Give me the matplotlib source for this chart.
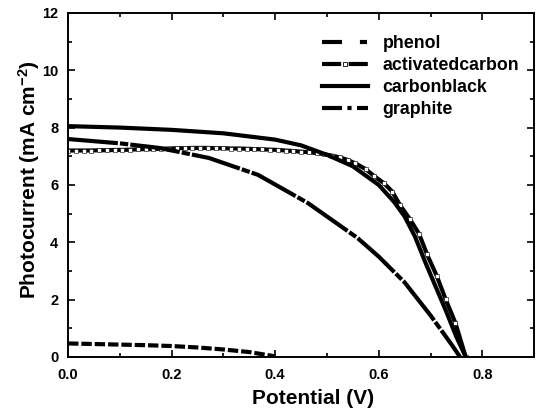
import numpy as np
import matplotlib
matplotlib.use("Agg")
import matplotlib.pyplot as plt
from matplotlib.lines import Line2D
from matplotlib.ticker import MultipleLocator

plt.rcParams["font.family"] = ["Liberation Sans", "DejaVu Sans"]
plt.rcParams["font.weight"] = "bold"
plt.rcParams["mathtext.fontset"] = "custom"
plt.rcParams["mathtext.bf"] = "Liberation Sans:bold"
plt.rcParams["mathtext.rm"] = "Liberation Sans:bold"
plt.rcParams["mathtext.default"] = "bf"

# ── data ──────────────────────────────────────────────────────────────────────
phenol_v = [0.0, 0.05, 0.1, 0.15, 0.2, 0.25, 0.3, 0.35, 0.38, 0.4]
phenol_i = [0.47, 0.45, 0.43, 0.41, 0.38, 0.33, 0.26, 0.17, 0.08, 0.02]

ac_v = [0.0, 0.015, 0.03, 0.045, 0.06, 0.075, 0.09, 0.105, 0.12, 0.135, 0.15,
        0.165, 0.18, 0.195, 0.21, 0.225, 0.24, 0.255, 0.27, 0.285, 0.3, 0.315,
        0.33, 0.345, 0.36, 0.375, 0.39, 0.405, 0.42, 0.435, 0.45, 0.465, 0.48,
        0.495, 0.51, 0.525, 0.54, 0.555, 0.575, 0.591, 0.61, 0.626, 0.641,
        0.66, 0.678, 0.693, 0.712, 0.729, 0.748, 0.768]
ac_i = [7.20, 7.20, 7.20, 7.20, 7.21, 7.21, 7.22, 7.22, 7.23, 7.24, 7.25,
        7.25, 7.26, 7.27, 7.28, 7.28, 7.29, 7.29, 7.29, 7.28, 7.28, 7.27,
        7.27, 7.26, 7.25, 7.24, 7.23, 7.22, 7.20, 7.18, 7.16, 7.14, 7.11,
        7.07, 7.02, 6.96, 6.87, 6.75, 6.55, 6.31, 6.06, 5.77, 5.30,
        4.81, 4.29, 3.59, 2.83, 2.02, 1.19, 0.0]

cb_v = [0.0, 0.1, 0.2, 0.3, 0.4, 0.45, 0.5, 0.55, 0.6, 0.63, 0.65, 0.67,
        0.69, 0.71, 0.73, 0.75, 0.768]
cb_i = [8.05, 8.00, 7.92, 7.80, 7.58, 7.38, 7.05, 6.65, 6.00, 5.40, 4.90, 4.20,
        3.30, 2.45, 1.60, 0.70, 0.0]

gr_v = [0.0, 0.1, 0.176, 0.272, 0.367, 0.463, 0.559, 0.6, 0.65, 0.7, 0.72,
        0.74, 0.757]
gr_i = [7.60, 7.45, 7.29, 6.94, 6.35, 5.37, 4.15, 3.50, 2.60, 1.45, 0.95,
        0.45, 0.0]

labels = ["phenol", "activatedcarbon", "carbonblack", "graphite"]

# ── plot ──────────────────────────────────────────────────────────────────────
fig = plt.figure(figsize=(5.4, 4.16), dpi=100)
ax = fig.add_axes([0.126, 0.142, 0.863, 0.827])

lw = 3.0
ax.plot(phenol_v, phenol_i, color="black", lw=lw, ls=(0, (2.5, 0.7)))
ax.plot(ac_v, ac_i, color="black", lw=lw, ls="-", marker="s",
        ms=2.4, mfc="white", mec="black", mew=0.4)
ax.plot(cb_v, cb_i, color="black", lw=lw, ls="-")
ax.plot(gr_v, gr_i, color="black", lw=lw, ls=(0, (12, 0.5, 2, 0.5)))

# legend handles drawn the way the original legend shows them
ac_handle = (
    Line2D([], [], color="black", lw=lw, ls=(0, (4.6, 1.8))),
    Line2D([], [], ls="none", marker="s", ms=3.2, mfc="white", mec="black",
           mew=0.6),
)
handles = [
    Line2D([], [], color="black", lw=lw, ls=(0, (4.8, 4.3, 1.7, 4.3))),
    ac_handle,
    Line2D([], [], color="black", lw=lw, ls="-"),
    Line2D([], [], color="black", lw=lw, ls=(0, (4.8, 1.3, 1.0, 1.3))),
]

ax.set_xlim(0, 0.9)
ax.set_ylim(0, 12)
ax.xaxis.set_major_locator(MultipleLocator(0.2))
ax.xaxis.set_minor_locator(MultipleLocator(0.1))
ax.yaxis.set_major_locator(MultipleLocator(2))
ax.yaxis.set_minor_locator(MultipleLocator(1))
ax.xaxis.set_major_formatter(plt.FuncFormatter(lambda v, p: f"{v:.1f}"))
ax.tick_params(which="both", direction="in", top=True, right=True,
               labelsize=10.5, width=1.2)
ax.tick_params(axis="y", pad=7)
ax.tick_params(axis="x", pad=8)
ax.tick_params(which="major", length=5)
ax.tick_params(which="minor", length=3)
for s in ax.spines.values():
    s.set_linewidth(1.4)

ax.set_xlabel("Potential (V)", fontsize=15, fontweight="bold")
ax.set_ylabel("Photocurrent (mA cm$^{-2}$)", fontsize=15, fontweight="bold")
ax.xaxis.set_label_coords(0.526, -0.094)
ax.yaxis.set_label_coords(-0.055, 0.515)

ax.legend(handles, labels, loc="upper left", bbox_to_anchor=(0.545, 0.935),
          frameon=False, fontsize=12.8, handlelength=2.6, handletextpad=0.8,
          labelspacing=0.28, borderpad=0, borderaxespad=0)

fig.savefig("out.png", dpi=100)
